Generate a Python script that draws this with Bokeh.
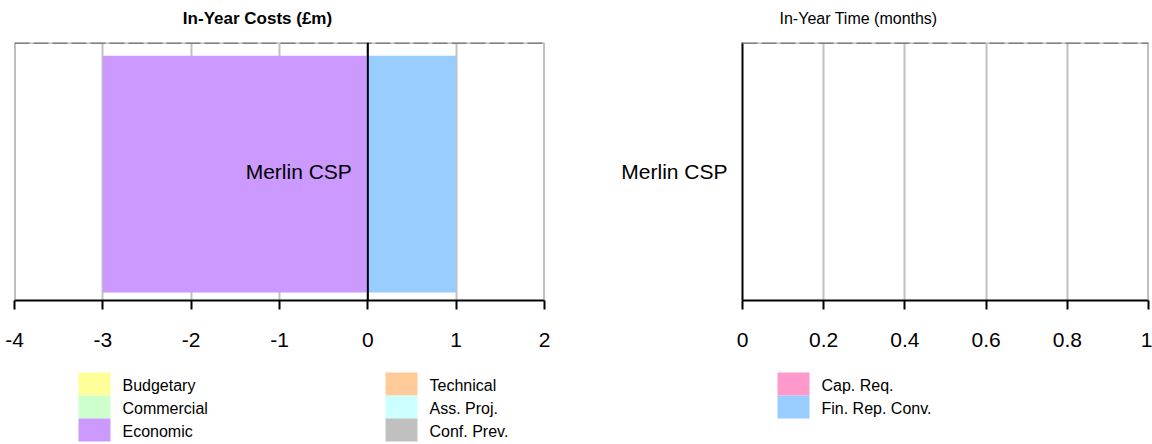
import numpy as np
from bokeh.plotting import figure
from bokeh.layouts import column, row
from bokeh.models import FactorRange, Range1d, Span, FixedTicker, ColumnDataSource
from bokeh.transform import dodge
from bokeh.core.properties import value
from bokeh.embed import file_html
from bokeh.resources import INLINE

# ---- data -------------------------------------------------------------
projects = ["Merlin CSP"]
risk_types = ["Budgetary", "Commercial", "Economic",
              "Technical", "Ass. Proj.", "Conf. Prev.",
              "Cap. Req.", "Fin. Rep. Conv."]
risk_colors = ["#FFFF99", "#CCFFCC", "#CC99FF",
               "#FFCC99", "#CCFFFF", "#C0C0C0",
               "#FF99CC", "#99CCFF"]
cost_values = [0, 0, -3, 0, 0, 0, 0, 1]   # in-year cost per risk type (£m)
time_values = [0, 0, 0, 0, 0, 0, 0, 0]    # in-year time per risk type (months)

cost_ticks = [-4, -3, -2, -1, 0, 1, 2]
cost_tick_labels = ["-4", "-3", "-2", "-1", "0", "1", "2"]
time_ticks = [0, 0.2, 0.4, 0.6, 0.8, 1]
time_tick_labels = ["0", "0.2", "0.4", "0.6", "0.8", "1"]

panel_titles = ["In-Year Costs (£m)", "In-Year Time (months)"]

FONT = "Liberation Sans"
BORDER = "#808080"
GRID = "#C0C0C0"
PAGE_W = 1152


def stack(vals):
    """Diverging stack: negatives grow left of zero, positives right."""
    v = np.asarray(vals, dtype=float)
    pos = np.where(v > 0, v, 0.0)
    neg = np.where(v < 0, v, 0.0)
    pos_right = np.cumsum(pos)
    pos_left = pos_right - pos
    neg_left = np.cumsum(neg)
    neg_right = neg_left - neg
    left = np.where(v >= 0, pos_left, neg_left)
    right = np.where(v >= 0, pos_right, neg_right)
    return left, right


def strip(height):
    """Blank pixel-space figure used for headings and the key."""
    s = figure(width=PAGE_W, height=height, x_range=Range1d(0, PAGE_W),
               y_range=Range1d(height, 0), output_backend="svg",
               toolbar_location=None, min_border=0,
               x_axis_location=None, y_axis_location=None)
    s.grid.visible = False
    s.outline_line_color = None
    return s


def make_panel(ticks, tick_labels, width, b_left, b_right, vals, show_yaxis):
    p = figure(width=width, height=335,
               x_range=Range1d(ticks[0], ticks[-1]),
               y_range=FactorRange(factors=projects, range_padding=0),
               output_backend="svg", toolbar_location=None,
               min_border_left=b_left, min_border_right=b_right,
               min_border_top=12, min_border_bottom=65,
               y_axis_location="left" if show_yaxis else None)
    p.outline_line_color = None
    p.background_fill_color = "white"
    p.border_fill_color = "white"

    # stacked bars, one per risk type
    left, right = stack(vals)
    for lo, hi, col in zip(left, right, risk_colors):
        if hi != lo:
            src = ColumnDataSource(dict(y=projects, left=[lo] * len(projects),
                                        right=[hi] * len(projects)))
            p.hbar(y=dodge("y", -0.01, range=p.y_range), left="left",
                   right="right", height=0.918, source=src,
                   fill_color=col, line_color=None)

    # value axis
    ax = p.xaxis[0]
    ax.ticker = FixedTicker(ticks=ticks)
    ax.major_label_overrides = dict(zip(ticks, tick_labels))
    ax.axis_line_color = "black"
    ax.axis_line_width = 2
    ax.major_tick_line_color = "black"
    ax.major_tick_line_width = 2
    ax.major_tick_in = 0
    ax.major_tick_out = 9
    ax.minor_tick_line_color = None
    ax.major_label_text_font = FONT
    ax.major_label_text_font_size = "21px"
    ax.major_label_text_color = "black"
    ax.major_label_standoff = 23

    p.xgrid.ticker = FixedTicker(ticks=ticks)
    p.xgrid.grid_line_color = GRID
    p.xgrid.grid_line_width = 2
    p.ygrid.grid_line_color = None

    # frame: grey right side, dashed grey top
    p.add_layout(Span(location=ticks[-1], dimension="height",
                      line_color=BORDER, line_width=2))
    p.add_layout(Span(location=1, dimension="width",
                      line_color=GRID, line_width=3))
    p.add_layout(Span(location=1, dimension="width",
                      line_color=BORDER, line_width=3, line_dash="15 4"))
    return p


# ---- headings ---------------------------------------------------------
head = strip(30)
head.text(x=[257], y=[18], text=panel_titles[:1], text_align="center",
          text_baseline="middle", text_font=value(FONT),
          text_font_size="17px", text_font_style="bold", text_color="black")
head.text(x=[858], y=[18], text=panel_titles[1:], text_align="center",
          text_baseline="middle", text_font=value(FONT),
          text_font_size="16px", text_color="black")

# ---- cost panel -------------------------------------------------------
pa = make_panel(cost_ticks, cost_tick_labels, 580, 14, 36, cost_values, False)
pa.add_layout(Span(location=cost_ticks[0], dimension="height",
                   line_color=BORDER, line_width=2))
pa.add_layout(Span(location=0, dimension="height",
                   line_color="black", line_width=2))
pa.text(x=[0] * len(projects), y=projects, text=projects,
        x_offset=-16, text_align="right", text_baseline="middle",
        text_font=value(FONT), text_font_size="21px", text_color="black")

# ---- time panel -------------------------------------------------------
pb = make_panel(time_ticks, time_tick_labels, 572, 162, 4, time_values, True)
yax = pb.yaxis[0]
yax.axis_line_color = "black"
yax.axis_line_width = 2
yax.major_tick_line_color = None
yax.major_tick_in = 0
yax.major_tick_out = 0
yax.major_label_text_font = FONT
yax.major_label_text_font_size = "21px"
yax.major_label_text_color = "black"
yax.major_label_standoff = 15

# ---- key --------------------------------------------------------------
leg = strip(79)
col_x = [78, 385, 777]
idx = np.arange(len(risk_types))
sw_left = np.array([col_x[i // 3] for i in idx], dtype=float)
row_top = 7 + 23 * (idx % 3)
leg.quad(left=sw_left, right=sw_left + 32, top=row_top, bottom=row_top + 23,
         fill_color=risk_colors, line_color=None)
leg.text(x=sw_left + 44, y=row_top + 13, text=risk_types,
         text_align="left", text_baseline="middle",
         text_font=value(FONT), text_font_size="16px", text_color="black")

layout = column(head, row(pa, pb), leg)
open("out.html", "w").write(file_html(layout, INLINE))
